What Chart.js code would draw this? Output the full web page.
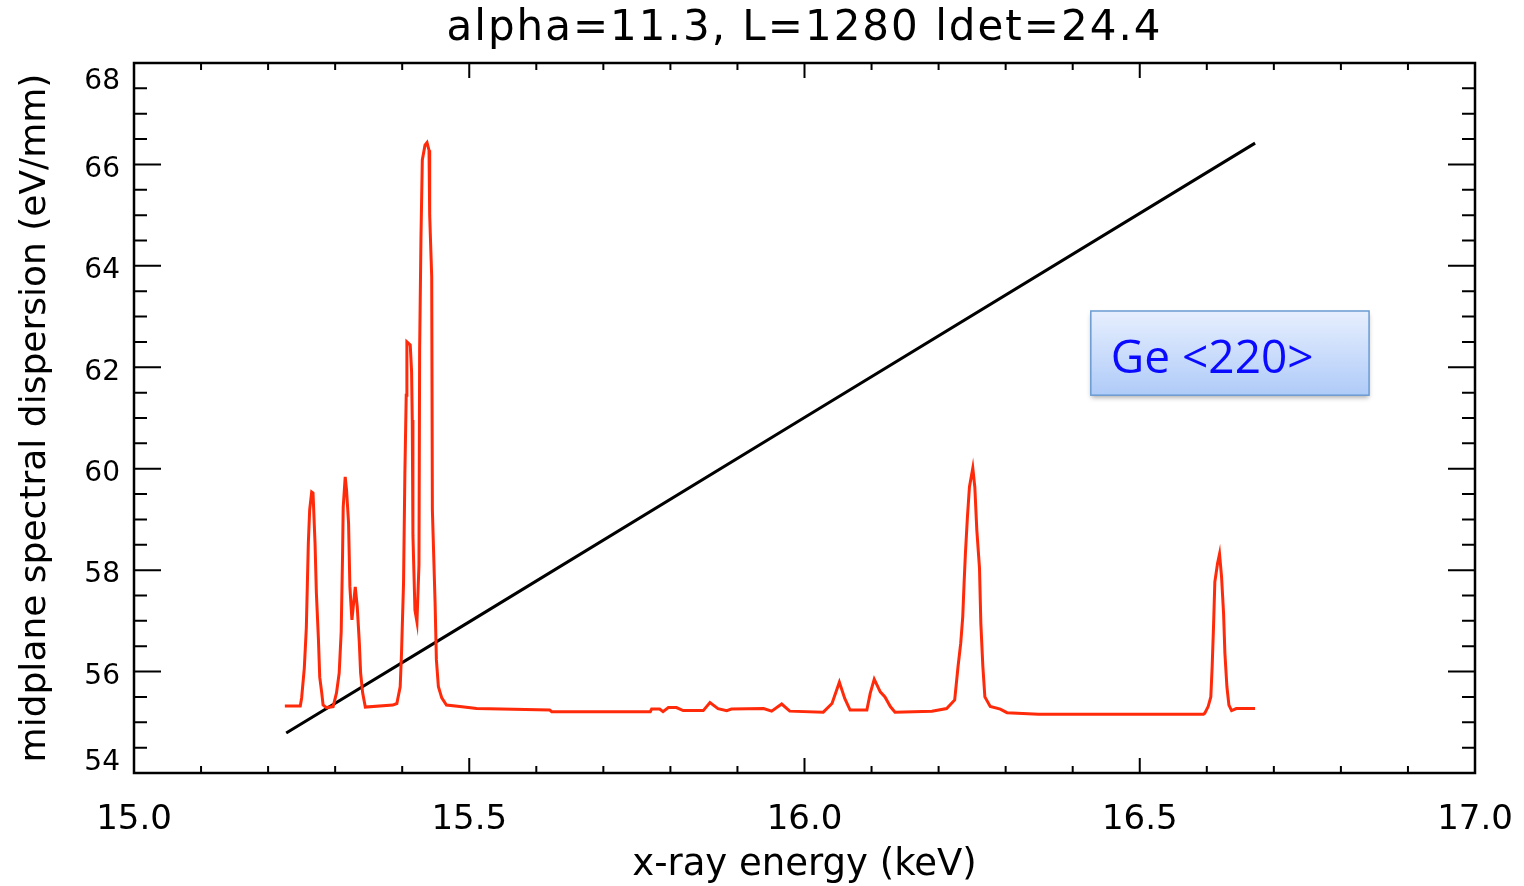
<!DOCTYPE html>
<html>
<head>
<meta charset="utf-8">
<title>Ge 220 dispersion</title>
<script src="https://cdn.jsdelivr.net/npm/chart.js@4.4.1/dist/chart.umd.min.js"></script>
<style>
  html, body { margin: 0; padding: 0; background: #fff; }
  #wrap { width: 1524px; height: 886px; }
</style>
</head>
<body>
<div id="wrap"><canvas id="chart" width="1524" height="886"></canvas></div>
<script>
// spectrum (red) : energy in keV, value on the dispersion scale
const specEnergy = [
  15.225, 15.248, 15.250, 15.254, 15.257, 15.260, 15.262, 15.265, 15.267, 15.270,
  15.272, 15.275, 15.277, 15.280, 15.282, 15.287, 15.297,
  15.302, 15.306, 15.309, 15.311, 15.312, 15.315, 15.317, 15.320, 15.322, 15.325,
  15.330, 15.333, 15.336, 15.338, 15.341, 15.345, 15.386,
  15.392, 15.397, 15.399, 15.402, 15.404, 15.406, 15.407, 15.412, 15.414, 15.415,
  15.416, 15.419, 15.422, 15.425, 15.426, 15.428, 15.430, 15.434, 15.437, 15.440,
  15.441, 15.444, 15.445, 15.449, 15.451, 15.454, 15.459, 15.466, 15.486, 15.511,
  15.620, 15.623, 15.770, 15.772, 15.784, 15.789, 15.797, 15.809, 15.819, 15.849,
  15.859, 15.871, 15.884, 15.891, 15.939, 15.951, 15.966, 15.978, 16.028, 16.041,
  16.052, 16.060, 16.068, 16.093, 16.098, 16.104, 16.113, 16.120, 16.128, 16.135,
  16.190, 16.212, 16.224, 16.229, 16.233, 16.236, 16.238, 16.240, 16.243, 16.246,
  16.251, 16.254, 16.257, 16.261, 16.263, 16.266, 16.269, 16.277, 16.292, 16.302,
  16.349, 16.595, 16.597, 16.602, 16.606, 16.608, 16.610, 16.612, 16.616, 16.619,
  16.622, 16.625, 16.627, 16.630, 16.633, 16.637, 16.644, 16.672
];
const specValue = [
  55.32, 55.32, 55.48, 56.07, 56.86, 58.53, 59.19, 59.54, 59.52, 58.53,
  57.55, 56.66, 55.89, 55.58, 55.34, 55.29, 55.31,
  55.58, 55.97, 56.78, 58.26, 59.24, 59.84, 59.58, 58.93, 57.67, 57.02,
  57.67, 57.27, 56.58, 55.97, 55.58, 55.30, 55.34,
  55.37, 55.70, 56.37, 57.75, 59.91, 61.45, 62.50, 62.44, 61.91, 60.96,
  58.69, 57.21, 56.98, 58.10, 62.34, 64.57, 66.09, 66.38, 66.43, 66.28,
  65.00, 63.79, 59.19, 57.38, 56.23, 55.70, 55.48, 55.34, 55.31, 55.27,
  55.24, 55.21, 55.21, 55.26, 55.26, 55.21, 55.29, 55.29, 55.23, 55.23,
  55.39, 55.27, 55.23, 55.26, 55.27, 55.22, 55.36, 55.22, 55.20, 55.37,
  55.79, 55.47, 55.24, 55.24, 55.57, 55.85, 55.60, 55.50, 55.31, 55.20,
  55.22, 55.27, 55.44, 56.10, 56.56, 57.08, 57.74, 58.33, 59.05, 59.64,
  60.01, 59.64, 58.79, 58.04, 56.95, 56.10, 55.50, 55.31, 55.26, 55.19,
  55.16, 55.16, 55.18, 55.31, 55.50, 56.10, 56.88, 57.77, 58.13, 58.32,
  57.87, 57.15, 56.36, 55.70, 55.34, 55.23, 55.27, 55.27
];

// dispersion (black) in eV/mm
const dispEnergy = [15.227, 15.500, 16.000, 16.672];
const dispValue = [54.79, 56.98, 61.01, 66.42];

const xTicks = [15.0, 15.5, 16.0, 16.5, 17.0];
const yTicks = [54, 56, 58, 60, 62, 64, 66, 68];
const xMinorStep = 0.1;
const yMinorStep = 0.5;

const plotTitle = 'alpha=11.3, L=1280 ldet=24.4';
const FONT = "'DejaVu Sans', sans-serif";

const toPoints = (xs, ys) => xs.map((v, i) => ({ x: v, y: ys[i] }));

// IDL style box: frame with inward ticks on all four sides, y labels and title
const frameTicks = {
  id: 'frameTicks',
  afterDatasetsDraw(chart) {
    const { ctx, chartArea: a, scales: { x, y } } = chart;
    ctx.save();
    ctx.strokeStyle = '#000';
    ctx.lineWidth = 2;
    ctx.beginPath();
    const xMin = xTicks[0], xMax = xTicks[xTicks.length - 1];
    const nx = Math.round((xMax - xMin) / xMinorStep);
    for (let i = 0; i <= nx; i++) {
      const px = x.getPixelForValue(xMin + i * xMinorStep);
      const len = i % 5 === 0 ? 15 : 7;
      ctx.moveTo(px, a.bottom); ctx.lineTo(px, a.bottom - len);
      ctx.moveTo(px, a.top); ctx.lineTo(px, a.top + len);
    }
    const yMin = yTicks[0], yMax = yTicks[yTicks.length - 1];
    const ny = Math.round((yMax - yMin) / yMinorStep);
    for (let i = 0; i <= ny; i++) {
      const py = y.getPixelForValue(yMin + i * yMinorStep);
      const len = i % 4 === 0 ? 27 : 13;
      ctx.moveTo(a.left, py); ctx.lineTo(a.left + len, py);
      ctx.moveTo(a.right, py); ctx.lineTo(a.right - len, py);
    }
    ctx.stroke();
    ctx.lineWidth = 2.5;
    ctx.strokeRect(a.left, a.top, a.right - a.left, a.bottom - a.top);

    // y labels, kept inside the frame height at both ends
    ctx.fillStyle = '#000';
    ctx.font = '28px ' + FONT;
    ctx.textAlign = 'right';
    ctx.textBaseline = 'middle';
    yTicks.forEach(v => {
      let py = y.getPixelForValue(v) + 5;
      py = Math.min(Math.max(py, a.top + 19), a.bottom - 10);
      ctx.fillText(String(v), a.left - 14, py);
    });

    // title centred over the plot box
    ctx.font = '42px ' + FONT;
    ctx.textAlign = 'center';
    ctx.letterSpacing = '2px';
    ctx.fillText(plotTitle, (a.left + a.right) / 2, 29);
    ctx.restore();
  }
};

// crystal label box
const crystalLabel = {
  id: 'crystalLabel',
  afterDraw(chart) {
    const { ctx, scales: { x, y } } = chart;
    const x0 = x.getPixelForValue(16.427), x1 = x.getPixelForValue(16.842);
    const y0 = y.getPixelForValue(63.11), y1 = y.getPixelForValue(61.45);
    ctx.save();
    ctx.shadowColor = 'rgba(0,0,0,0.35)';
    ctx.shadowBlur = 5;
    ctx.shadowOffsetY = 3;
    const g = ctx.createLinearGradient(0, y0, 0, y1);
    g.addColorStop(0, '#e7effe');
    g.addColorStop(1, '#afcbf8');
    ctx.fillStyle = g;
    ctx.fillRect(x0, y0, x1 - x0, y1 - y0);
    ctx.shadowColor = 'transparent';
    ctx.strokeStyle = '#6b9bd2';
    ctx.lineWidth = 1.5;
    ctx.strokeRect(x0, y0, x1 - x0, y1 - y0);
    ctx.fillStyle = '#0a0aff';
    ctx.font = "46px 'Open Sans', sans-serif";
    ctx.textAlign = 'left';
    ctx.textBaseline = 'alphabetic';
    ctx.fillText('Ge <220>', x0 + 20, y0 + 62);
    ctx.restore();
  }
};

new Chart(document.getElementById('chart'), {
  type: 'line',
  data: {
    datasets: [
      {
        label: 'spectrum',
        data: toPoints(specEnergy, specValue),
        borderColor: '#ff2a0a',
        borderWidth: 3,
        pointRadius: 0,
        tension: 0,
        fill: false
      },
      {
        label: 'dispersion',
        data: toPoints(dispEnergy, dispValue),
        borderColor: '#000',
        borderWidth: 3,
        pointRadius: 0,
        tension: 0,
        fill: false
      }
    ]
  },
  options: {
    responsive: false,
    animation: false,
    devicePixelRatio: 1,
    layout: { padding: { left: 0, right: 49, top: 63, bottom: 0 } },
    plugins: {
      legend: { display: false },
      tooltip: { enabled: false },
      title: { display: false }
    },
    scales: {
      x: {
        type: 'linear',
        min: 15,
        max: 17,
        grid: { display: false },
        border: { display: false },
        afterFit: s => { s.height = 113; s.paddingLeft = 0; s.paddingRight = 0; },
        afterBuildTicks: s => { s.ticks = xTicks.map(v => ({ value: v })); },
        ticks: {
          color: '#000',
          autoSkip: false,
          maxRotation: 0,
          padding: 19,
          font: { family: FONT, size: 34 },
          callback: v => Number(v).toFixed(1)
        },
        title: {
          display: true,
          text: 'x-ray energy (keV)',
          color: '#000',
          font: { family: FONT, size: 37, lineHeight: 1.1 },
          padding: { top: 0, bottom: 0 }
        }
      },
      y: {
        type: 'linear',
        min: 54,
        max: 68,
        grid: { display: false },
        border: { display: false },
        afterFit: s => { s.width = 134; },
        ticks: { display: false },
        title: {
          display: true,
          text: 'midplane spectral dispersion (eV/mm)',
          color: '#000',
          font: { family: FONT, size: 36 },
          padding: { top: 14, bottom: 0 }
        }
      }
    }
  },
  plugins: [frameTicks, crystalLabel]
});
</script>
</body>
</html>
